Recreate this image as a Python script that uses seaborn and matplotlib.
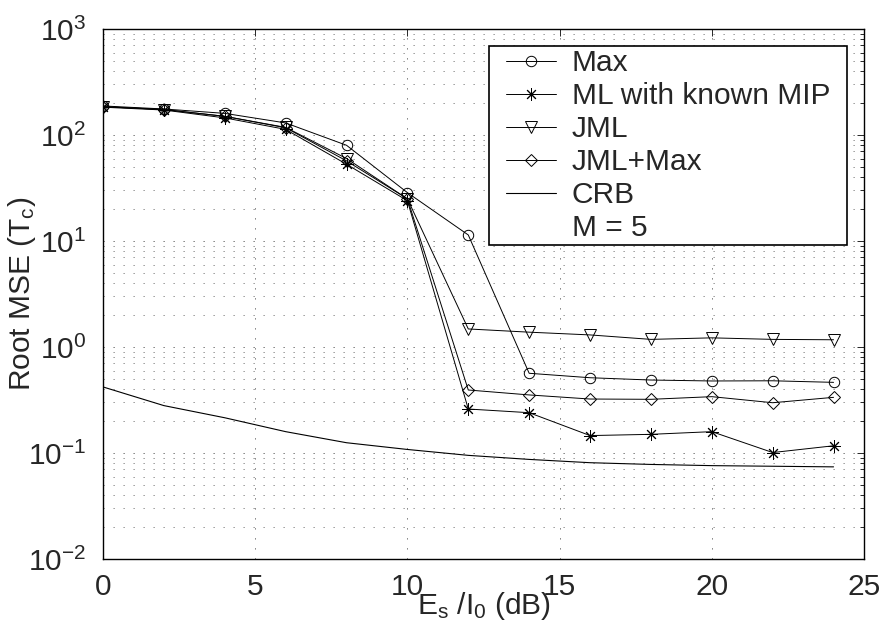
import numpy as np
import pandas as pd
import matplotlib
matplotlib.use("Agg")
import matplotlib.pyplot as plt
from matplotlib.patches import Rectangle
from matplotlib.ticker import LogLocator, NullLocator, FixedLocator
import seaborn as sns

# Es/I0 in dB
snr_db = [0, 2, 4, 6, 8, 10, 12, 14, 16, 18, 20, 22, 24]

# root MSE in chips
max_rmse = [188, 176, 160, 130, 80, 28.6, 11.4, 0.565, 0.513, 0.488, 0.478, 0.48, 0.464]
ml_rmse = [183, 172, 145, 113, 53, 24, 0.26, 0.24, 0.146, 0.15, 0.159, 0.101, 0.117]
jml_rmse = [185, 174, 150, 118, 60, 25, 1.48, 1.38, 1.3, 1.18, 1.22, 1.18, 1.17]
jml_max_rmse = [185, 174, 150, 117, 57, 25, 0.393, 0.353, 0.323, 0.321, 0.34, 0.298, 0.335]
crb_rmse = [0.42, 0.28, 0.215, 0.159, 0.125, 0.108, 0.095, 0.087, 0.081, 0.078, 0.076, 0.075, 0.074]

FS = 21.5

sns.set_style("white")
plt.rcParams['font.family'] = ['Liberation Sans', 'DejaVu Sans']
plt.rcParams['mathtext.fontset'] = 'custom'
plt.rcParams['mathtext.rm'] = 'Liberation Sans'
plt.rcParams['mathtext.it'] = 'Liberation Sans'
plt.rcParams['mathtext.default'] = 'regular'
plt.rcParams['font.size'] = FS

fig = plt.figure(figsize=(8.82, 6.33), dpi=100)
ax = fig.add_axes([103 / 882, 74 / 633, 761 / 882, 530 / 633])

series = [
    ("Max", max_rmse, dict(marker='o', markersize=7.5, markerfacecolor='none')),
    ("ML with known MIP", ml_rmse, dict(marker=(8, 2, 0), markersize=9)),
    ("JML", jml_rmse, dict(marker='v', markersize=8.5, markerfacecolor='none')),
    ("JML+Max", jml_max_rmse, dict(marker='D', markersize=6, markerfacecolor='none')),
]
for name, vals, style in series:
    sns.lineplot(x=snr_db, y=vals, ax=ax, color='black', linewidth=0.7,
                 markeredgecolor='black', markeredgewidth=0.7, label=name, **style)
sns.lineplot(x=snr_db, y=crb_rmse, ax=ax, color='black', linewidth=0.8, label="CRB")
ax.plot([], [], ' ', label="M = 5")

ax.set_yscale('log')
ax.set_xlim(0, 25)
ax.set_ylim(1e-2, 1e3)
ax.xaxis.set_major_locator(FixedLocator([0, 5, 10, 15, 20, 25]))
ax.xaxis.set_minor_locator(NullLocator())
ax.yaxis.set_major_locator(LogLocator(base=10, numticks=10))
ax.yaxis.set_minor_locator(LogLocator(base=10, subs=np.arange(2, 10), numticks=20))

ax.tick_params(which='both', direction='in', top=True, right=True, width=0.7, labelsize=FS)
ax.tick_params(which='major', length=5)
ax.tick_params(which='minor', length=3)
ax.tick_params(axis='x', which='major', pad=10)
ax.tick_params(axis='y', which='major', pad=12)

ax.grid(True, which='major', color='0.3', linestyle=(0, (1.5, 10.5)), linewidth=0.6)
ax.grid(True, which='minor', axis='y', color='0.45', linestyle=(0, (1.5, 10.5)), linewidth=0.6)

for sp in ax.spines.values():
    sp.set_linewidth(1.0)
    sp.set_color('black')

ax.set_xlabel(r"E$_s$ /I$_0$ (dB)", fontsize=FS)
ax.set_ylabel(r"Root MSE (T$_c$)", fontsize=FS)
ax.xaxis.set_label_coords(0.5, -0.058)
ax.yaxis.set_label_coords(-0.085, 0.5)

# legend: tight rows, wider side padding drawn as a separate frame
leg = ax.legend(loc='upper right', bbox_to_anchor=((833 - 103) / 761, (559 - 46) / 530),
                borderaxespad=0, frameon=False, fontsize=FS, handlelength=1.67,
                handletextpad=0.53, labelspacing=0.17, borderpad=0.1)
fig.canvas.draw()
bb = leg.get_window_extent().transformed(ax.transAxes.inverted())
side = 14 / 761
frame = Rectangle((bb.x0 - side, bb.y0), bb.width + 2 * side, bb.height,
                  transform=ax.transAxes, facecolor='white', edgecolor='black',
                  linewidth=1.2, zorder=leg.get_zorder() - 0.1)
ax.add_patch(frame)

fig.savefig("out.png", dpi=100)
